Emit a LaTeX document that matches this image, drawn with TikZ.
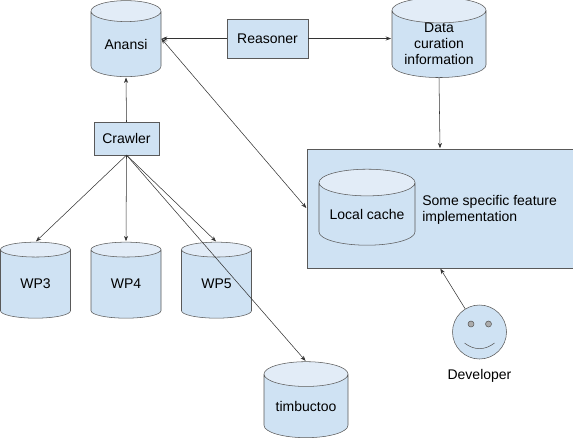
\documentclass[tikz,border=0pt]{standalone}
\usepackage{fontspec}
\setmainfont{Liberation Sans}
\usepackage{xcolor}
\usetikzlibrary{shapes,arrows,arrows.meta,positioning}
\definecolor{boxfill}{RGB}{207,226,243}
\definecolor{capfill}{RGB}{226,236,247}
\definecolor{boxline}{RGB}{89,89,89}
\definecolor{arrowline}{RGB}{51,51,51}

\begin{document}
\begin{tikzpicture}[
    x=0.75pt, y=-0.75pt,
    font=\fontsize{10.5}{12}\selectfont,
    box/.style={rectangle, draw=boxline, fill=boxfill, inner sep=0pt},
    store/.style={cylinder, shape border rotate=90, aspect=0.49, draw=boxline, cylinder uses custom fill, cylinder body fill=boxfill, cylinder end fill=capfill, minimum width=52.5pt, minimum height=57pt, inner sep=0pt, align=center},
    eye/.style={circle, draw=boxline, fill=boxline!50, minimum size=4.5pt, inner sep=0pt},
    arrow/.style={-{Stealth[length=4pt,width=3pt]}, draw=arrowline, shorten >=0.5pt}
]
    \useasboundingbox (0,0) rectangle (573,440);

    \node[store] (anansi) at (126,44) {Anansi};
    \node[box, minimum width=60.5pt, minimum height=29pt] (reasoner) at (267.5,38.5) {Reasoner};
    \node[store, minimum width=70.5pt, aspect=0.365] (curation) at (439,44) {Data\\curation\\information};
    \node[box, minimum width=48.5pt, minimum height=24.5pt] (crawler) at (126.5,138.5) {Crawler};
    \node[box, minimum width=199.5pt, minimum height=89pt] (feature) at (440,208.5) {};
    \node[store, minimum width=72pt, aspect=0.357] (cache) at (367,214) {Local cache};
    \node[anchor=west, align=left, inner sep=0pt] (featuretext) at (422,209.5) {Some specific feature\\implementation};
    \node[store] (wpthree) at (35.5,284) {WP3};
    \node[store] (wpfour) at (126,284) {WP4};
    \node[store] (wpfive) at (216.5,284) {WP5};
    \node[store, minimum width=63pt, aspect=0.408] (timbuctoo) at (306,406) {timbuctoo};
    \node[circle, draw=boxline, fill=boxfill, minimum size=40.5pt, inner sep=0pt] (developer) at (479.5,332) {};
    \node[eye] (lefteye) at (471,324) {};
    \node[eye] (righteye) at (488.5,324) {};
    \node[below=7.5pt of developer, inner sep=0pt] (developerlabel) {Developer};

    \draw[boxline] (464.5,343) .. controls (474,350.5) and (485,350.5) .. (494.5,343);

    \draw[arrow] (crawler.north) -- (anansi.south);
    \draw[arrow] (reasoner.west) -- (anansi.east |- reasoner.west);
    \draw[arrow] (reasoner.east) -- (curation.west |- reasoner.east);
    \draw[arrow] (curation.south) -- (feature.north);
    \draw[arrow, {Stealth[length=4pt,width=3pt]}-{Stealth[length=4pt,width=3pt]}] (anansi.east |- reasoner.west) -- (feature.west);
    \draw[arrow] (crawler.south) -- (wpthree.north);
    \draw[arrow] (crawler.south) -- (wpfour.north);
    \draw[arrow] (crawler.south) -- (wpfive.north);
    \draw[arrow] (crawler.south) -- (timbuctoo.north);
    \draw[arrow] (developer) -- (feature.south);
\end{tikzpicture}
\end{document}
